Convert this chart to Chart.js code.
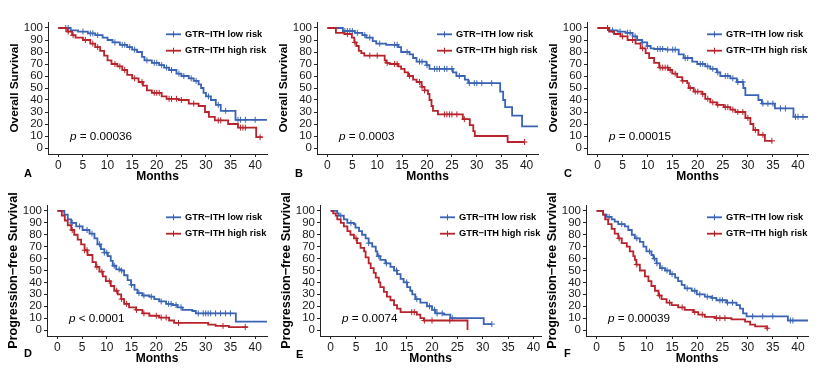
<!DOCTYPE html>
<html>
<head>
<meta charset="utf-8">
<script src="https://cdn.jsdelivr.net/npm/chart.js@4.4.1/dist/chart.umd.min.js"></script>
<style>
  html, body { margin: 0; padding: 0; background: #fff; }
  body { width: 831px; height: 373px; position: relative; overflow: hidden; }
  canvas { position: absolute; }
</style>
</head>
<body>
<canvas id="cA"></canvas>
<canvas id="cB"></canvas>
<canvas id="cC"></canvas>
<canvas id="cD"></canvas>
<canvas id="cE"></canvas>
<canvas id="cF"></canvas>
<script>
// Kaplan-Meier curves: event times (months), survival (%), censor times

const xTicks = [0, 5, 10, 15, 20, 25, 30, 35, 40];
const yTicks = [0, 10, 20, 30, 40, 50, 60, 70, 80, 90, 100];
const seriesNames = ["GTR\u2212ITH low risk", "GTR\u2212ITH high risk"];

// A - overall survival
const aLowT = [0, 2.5, 4, 6, 7.5, 9, 10, 11, 12.5, 14, 15, 16, 17, 17.5, 19, 20.5, 21.5, 22.5, 24, 25, 26.5, 27.5, 28.5, 29, 29.5, 30, 31, 32, 33, 36, 42.4];
const aLowS = [100, 98, 97, 95.5, 94, 92, 90, 88, 86, 84, 82, 80, 76, 73, 71, 69, 67, 65, 62, 60, 58, 56, 53, 50, 46, 43, 40, 36, 31, 23.5, 23.5];
const aLowC = [1.5, 2, 5, 6.5, 7, 8, 11.5, 13, 13.5, 14.5, 15.5, 18, 19.5, 20, 21, 22, 23, 24.5, 25.5, 27, 28, 30.5, 32.5, 34, 36.5, 37, 38, 40];
const aHighT = [0, 1.8, 2.8, 3.5, 5, 6.5, 7.5, 8.5, 9.3, 10, 10.8, 12, 13, 14, 15, 16.3, 17.2, 18, 19, 21, 22, 24.5, 26.5, 28.5, 29.8, 30.6, 31.8, 34.5, 36.5, 40.2, 41.5];
const aHighS = [100, 97, 94, 92, 90, 87, 84, 81, 77, 73, 70, 68, 65, 61, 58, 55, 52, 48, 46, 43, 41, 40, 37, 35, 30, 26, 23, 20, 17, 9, 9];
const aHighC = [2, 3, 5.5, 7, 8, 11.5, 12.5, 13.5, 15.5, 17, 19.5, 20, 20.5, 22.5, 23, 24, 25, 27.5, 32.5, 33, 37, 37.5, 38, 41];

// B - overall survival
const bLowT = [0, 3.1, 5.5, 7, 7.8, 9.1, 9.8, 11.8, 14.2, 14.8, 16.5, 17.2, 17.9, 19.9, 20.5, 25.2, 25.9, 27.6, 28.3, 34.7, 35.3, 35.7, 37.1, 39.1, 42.3];
const bLowS = [100, 97.5, 96, 94, 92, 89, 87, 86, 84, 80, 78, 75, 72, 69, 66, 63, 60, 57, 54, 47, 40, 34, 27, 18, 18];
const bLowC = [3.5, 4, 4.5, 5, 6, 7.5, 8.5, 10.5, 13.5, 14, 16, 18.5, 19, 20, 21.5, 22, 22.5, 23.5, 24, 25, 26.5, 28.5, 29.5, 30, 31, 33];
const bHighT = [0, 1.7, 3.4, 4.9, 5.4, 5.8, 6.3, 6.8, 7.4, 11.5, 11.8, 12.5, 14.2, 14.8, 15.5, 16.2, 17.2, 17.9, 18.9, 19.5, 20.2, 20.5, 20.9, 21.2, 22.2, 27.2, 28.6, 29.3, 29.6, 36.2, 39.6];
const bHighS = [100, 96, 95, 92, 88, 85, 81, 79, 77, 73, 71, 70, 68, 66, 63, 60, 57, 55, 51, 48, 45, 40, 35, 31, 28, 24, 19, 14, 10, 5, 5];
const bHighC = [4, 5.5, 8.5, 10, 12, 13.5, 14, 16.5, 18.5, 19, 19.5, 23.5, 24, 24.5, 25, 26, 27.5, 39.6];

// C - overall survival
const cLowT = [0, 2.3, 4, 5.6, 7, 7.9, 8.9, 9.9, 10.6, 11.3, 13.6, 16.2, 17.2, 18.9, 19.9, 21.5, 22.5, 23.8, 24.5, 26.5, 27.8, 29.1, 29.5, 32.1, 32.8, 35.4, 39.1, 42];
const cLowS = [100, 98, 97, 96, 93, 90, 88, 85, 83, 82.5, 82, 78, 75, 72, 70, 68, 66, 63, 60, 58, 55, 50, 44, 40, 37, 33, 26, 26];
const cLowC = [3, 4.5, 6, 6.5, 7.5, 9, 10, 12, 12.5, 13, 14, 15, 15.5, 17.5, 18, 20.5, 21, 22, 23, 24, 25.5, 26, 27, 28, 29, 33, 34, 35, 36.5, 37.5, 39.5, 40, 41];
const cHighT = [0, 2.3, 3.3, 4.6, 6, 7.6, 8.6, 9.6, 10.3, 11.3, 12.3, 14.2, 14.9, 15.9, 16.9, 17.9, 18.2, 19.2, 20.9, 21.5, 22.5, 23.8, 25.2, 26.5, 27.5, 29.5, 30.5, 31.1, 32.1, 33.4, 34.8];
const cHighS = [100, 97, 95, 93, 90, 87, 83, 79, 75, 71, 67, 65, 62, 59, 56, 54, 50, 47, 45, 41, 38, 36, 34, 32, 30, 25, 20, 15, 11, 6, 6];
const cHighC = [2, 5, 7, 9, 12.5, 13, 13.5, 14, 14.5, 15.5, 17, 18.5, 19.5, 20, 21, 22, 23, 24, 25.5, 26, 27, 28, 29, 30, 31.5, 33, 34.8];

// D - progression-free survival
const dLowT = [0, 1.4, 2.1, 2.8, 3.8, 5.1, 6.5, 7.5, 8.1, 8.8, 9.5, 10.2, 10.8, 11.2, 11.9, 12.9, 13.5, 14.2, 14.9, 15.6, 16.2, 17.2, 18.6, 19.6, 20.6, 22, 23.3, 24.3, 25.3, 27.3, 28, 36.1, 42.4];
const dLowS = [100, 97, 93, 90, 87, 84, 81, 77, 72, 68, 65, 62, 58, 54, 51, 50, 46, 42, 38, 34, 31, 29, 28, 26, 24, 22, 21, 19, 17, 16, 14, 7, 7];
const dLowC = [3, 4.5, 6, 7, 8.5, 9.5, 10, 11.5, 12.5, 13, 15, 16.5, 17.5, 19, 21, 22.5, 23, 24, 25, 28.5, 29.5, 30, 30.5, 31, 32, 33, 34, 35];
const dHighT = [0, 0.9, 1.5, 2.1, 2.8, 3.4, 4.1, 4.8, 5.5, 6.1, 7.1, 7.8, 8.5, 9.2, 9.8, 10.8, 11.5, 12.2, 12.9, 13.5, 14.5, 15.9, 17.2, 18.6, 20.6, 22.6, 23.6, 30.5, 32, 34.7, 38.5];
const dHighS = [100, 96, 92, 88, 84, 80, 76, 72, 67, 63, 57, 53, 49, 45, 41, 37, 33, 30, 26, 22, 19, 17, 14, 12, 10.5, 8, 6, 4.5, 3.5, 2.5, 2.5];
const dHighC = [3, 5.5, 6, 8, 9, 10.5, 12, 13, 14, 16, 17.5, 20, 21, 22, 24.5, 33.5, 38];

// E - progression-free survival
const eLowT = [0, 1.3, 1.6, 2.6, 3.3, 4.6, 4.9, 5.6, 6.2, 6.9, 7.5, 8.2, 8.9, 9.2, 9.8, 10.8, 11.8, 12.5, 13.1, 13.8, 14.4, 15.1, 15.7, 16.1, 16.7, 17.7, 19, 20, 20.7, 22.3, 23.6, 30.2, 31.8];
const eLowS = [100, 98, 96, 93, 90, 89, 86, 83, 80, 77, 73, 70, 66, 62, 59, 56, 53, 50, 47, 43, 40, 36, 33, 30, 26, 23, 20, 17, 14, 13, 10, 5, 5];
const eLowC = [2, 4, 7.5, 9.5, 11, 13, 15, 17, 19.5, 20.5, 21, 22, 24, 31.8];
const eHighT = [0, 0.5, 1, 1.3, 2, 2.6, 3.3, 3.9, 4.6, 5.2, 5.9, 6.6, 6.9, 7.5, 7.9, 8.5, 8.9, 9.5, 9.8, 10.5, 11.1, 11.8, 12.5, 13.1, 13.8, 17, 17.7, 18.4, 27];
const eHighS = [100, 98, 96, 93, 90, 87, 83, 80, 77, 73, 69, 66, 61, 56, 52, 48, 44, 40, 36, 32, 28, 25, 21, 18, 15, 13, 10, 8, 0];
const eHighC = [5, 16, 16.5, 18.5, 20, 23.5];

// F - progression-free survival
const fLowT = [0, 1.3, 2, 3, 3.6, 4.3, 5.6, 6.3, 7, 7.6, 8.6, 9.3, 9.9, 10.9, 11.3, 11.9, 12.6, 13.6, 14.6, 15.6, 16.2, 16.9, 17.5, 18.9, 19.9, 21.5, 22.8, 23.8, 25.8, 27.8, 28.5, 29.1, 29.8, 38, 42];
const fLowS = [100, 97, 95, 93, 91, 89, 87, 84, 80, 77, 74, 70, 66, 63, 60, 56, 52, 50, 47, 44, 41, 38, 35, 33, 30, 28, 27, 25, 23, 21, 18, 14, 11.5, 8, 8];
const fLowC = [2.5, 5, 8, 10.5, 11.5, 12, 13, 14, 15, 18, 19.5, 20.5, 22, 23, 24.5, 25, 26, 27, 31, 33, 35, 38.5, 39];
const fHighT = [0, 1.3, 1.7, 2.3, 3, 3.6, 4.3, 5, 6, 6.6, 7.3, 7.6, 7.9, 8.6, 9.6, 10.3, 10.9, 11.6, 12.3, 12.9, 13.9, 14.9, 16.2, 17.5, 19.2, 20.2, 21.5, 23.5, 26.8, 29.5, 30.5, 31.5, 33.8, 34.1];
const fHighS = [100, 97, 93, 89, 85, 81, 77, 73, 70, 66, 62, 59, 55, 50, 45, 41, 37, 33, 29, 26, 23, 21, 19, 17, 15, 13, 11, 10, 9, 7, 4.5, 3, 1.5, 1.5];
const fHighC = [4.5, 8, 12.5, 14.5, 17, 19.5, 21, 23.8, 24.5, 25.5, 33.9];

const blue = "#3a63b4";
const red = "#b8232b";

// panel boxes (canvas) and plot areas, in page pixels
const panels = [
  { id: "cA", box: [0, 0, 272, 190], area: [48, 22, 269, 154], yTitle: "Overall Survival", ySize: 11.8, letter: "A", p: "0.00036", pSign: "=", xMax: 42.4,
    low: [aLowT, aLowS, aLowC], high: [aHighT, aHighS, aHighC], letterDx: -24, letterDy: 20 },
  { id: "cB", box: [272, 0, 275, 190], area: [317, 22, 538, 154], yTitle: "Overall Survival", ySize: 11.8, letter: "B", p: "0.0003", pSign: "=", xMax: 42.3,
    low: [bLowT, bLowS, bLowC], high: [bHighT, bHighS, bHighC], letterDx: -22, letterDy: 20 },
  { id: "cC", box: [547, 0, 284, 190], area: [587, 22, 808, 154], yTitle: "Overall Survival", ySize: 11.8, letter: "C", p: "0.00015", pSign: "=", xMax: 42,
    low: [cLowT, cLowS, cLowC], high: [cHighT, cHighS, cHighC], letterDx: -23, letterDy: 20 },
  { id: "cD", box: [0, 190, 272, 183], area: [47, 205, 268, 336], yTitle: "Progression\u2212free Survival", ySize: 12.6, letter: "D", p: "0.0001", pSign: "<", xMax: 42.4,
    low: [dLowT, dLowS, dLowC], high: [dHighT, dHighS, dHighC], letterDx: -23, letterDy: 18 },
  { id: "cE", box: [272, 190, 275, 183], area: [320, 205, 541, 336], yTitle: "Progression\u2212free Survival", ySize: 12.6, letter: "E", p: "0.0074", pSign: "=", xMax: 41.5,
    low: [eLowT, eLowS, eLowC], high: [eHighT, eHighS, eHighC], letterDx: -24, letterDy: 19 },
  { id: "cF", box: [547, 190, 284, 183], area: [586, 205, 808, 336], yTitle: "Progression\u2212free Survival", ySize: 12.6, letter: "F", p: "0.00039", pSign: "=", xMax: 42,
    low: [fLowT, fLowS, fLowC], high: [fHighT, fHighS, fHighC], letterDx: -22, letterDy: 18 }
];

// step value of a KM curve at time t
function survAt(times, surv, t) {
  let v = surv[0];
  for (let i = 0; i < times.length; i++) {
    if (times[i] <= t) v = surv[i];
  }
  return v;
}

function curveData(times, surv) {
  return times.map((t, i) => ({ x: t, y: surv[i] }));
}

function censorData(times, surv, cens) {
  return cens.map((t) => ({ x: t, y: survAt(times, surv, t) }));
}

// draws titles, panel letter, legend and p value
const decorPlugin = {
  id: "decor",
  afterDraw(chart, args, opts) {
    const ctx = chart.ctx;
    const a = chart.chartArea;
    const font = "'Liberation Sans', Arial, Helvetica, sans-serif";
    ctx.save();
    ctx.fillStyle = "#000";

    // y title
    ctx.save();
    ctx.translate(a.left - 33, (a.top + a.bottom) / 2);
    ctx.rotate(-Math.PI / 2);
    ctx.font = "bold " + opts.ySize + "px " + font;
    ctx.textAlign = "center";
    ctx.textBaseline = "middle";
    ctx.fillText(opts.yTitle, 0, 0);
    ctx.restore();

    // x title
    ctx.font = "bold 12px " + font;
    ctx.textAlign = "center";
    ctx.textBaseline = "middle";
    ctx.fillText("Months", (a.left + a.right) / 2, a.bottom + 23);

    // panel letter
    ctx.font = "bold 11px " + font;
    ctx.textAlign = "left";
    ctx.fillText(opts.letter, a.left + opts.letterDx, a.bottom + opts.letterDy);

    // legend
    const tx = a.right - 82;
    const rows = [a.top + 12.3, a.top + 28.7];
    const cols = [blue, red];
    ctx.font = "bold 9.3px " + font;
    rows.forEach((ry, i) => {
      ctx.strokeStyle = cols[i];
      ctx.lineWidth = 1.8;
      ctx.beginPath();
      ctx.moveTo(tx - 19, ry);
      ctx.lineTo(tx - 4, ry);
      ctx.stroke();
      ctx.lineWidth = 1;
      ctx.beginPath();
      ctx.moveTo(tx - 11.5, ry - 3);
      ctx.lineTo(tx - 11.5, ry + 3);
      ctx.stroke();
      ctx.fillStyle = "#000";
      ctx.fillText(seriesNames[i], tx, ry);
    });

    // p value
    const px = a.left + 22;
    const py = a.bottom - 17.5;
    ctx.font = "italic 11.7px " + font;
    ctx.fillText("p", px, py);
    const pw = ctx.measureText("p").width;
    ctx.font = "11.7px " + font;
    ctx.fillText(" " + opts.pSign + " " + opts.p, px + pw, py);
    ctx.restore();
  },
};

function makeChart(pn) {
  const cv = document.getElementById(pn.id);
  const [bx, by, bw, bh] = pn.box;
  const [l, t, r, b] = pn.area;
  cv.width = bw;
  cv.height = bh;
  cv.style.left = bx + "px";
  cv.style.top = by + "px";
  cv.style.width = bw + "px";
  cv.style.height = bh + "px";

  const [lowT, lowS, lowC] = pn.low;
  const [highT, highS, highC] = pn.high;
  const tickFont = { family: "'Liberation Sans', Arial, Helvetica, sans-serif", size: 12 };

  return new Chart(cv, {
    type: "line",
    data: {
      datasets: [
        { data: curveData(highT, highS), borderColor: red, borderWidth: 1.8, stepped: true, pointRadius: 0, fill: false },
        { data: curveData(lowT, lowS), borderColor: blue, borderWidth: 1.8, stepped: true, pointRadius: 0, fill: false },
        { data: censorData(highT, highS, highC), showLine: false, pointStyle: "cross", pointRadius: 3, borderColor: red, borderWidth: 1 },
        { data: censorData(lowT, lowS, lowC), showLine: false, pointStyle: "cross", pointRadius: 3, borderColor: blue, borderWidth: 1 },
      ],
    },
    options: {
      responsive: false,
      animation: false,
      devicePixelRatio: 1,
      layout: { padding: { left: 0, top: t - by, right: bx + bw - r, bottom: 0 } },
      plugins: {
        legend: { display: false },
        tooltip: { enabled: false },
        decor: { yTitle: pn.yTitle, ySize: pn.ySize, letter: pn.letter, p: pn.p, pSign: pn.pSign, letterDx: pn.letterDx, letterDy: pn.letterDy },
      },
      scales: {
        x: {
          type: "linear",
          min: -2.1,
          max: pn.xMax,
          afterBuildTicks: (s) => { s.ticks = xTicks.map((v) => ({ value: v })); },
          afterFit: (s) => { s.height = by + bh - b; },
          grid: { display: true, drawOnChartArea: false, drawTicks: true, tickLength: 3, color: "#222" },
          border: { display: true, color: "#222", width: 1 },
          ticks: { font: tickFont, color: "#1a1a1a", padding: 1, maxRotation: 0, autoSkip: false },
        },
        y: {
          type: "linear",
          min: -5,
          max: 105,
          afterBuildTicks: (s) => { s.ticks = yTicks.map((v) => ({ value: v })); },
          afterFit: (s) => { s.width = l - bx; },
          grid: { display: true, drawOnChartArea: false, drawTicks: true, tickLength: 3, color: "#222" },
          border: { display: true, color: "#222", width: 1 },
          ticks: { font: { family: tickFont.family, size: 11.5 }, color: "#1a1a1a", padding: 2, autoSkip: false },
        },
      },
    },
    plugins: [decorPlugin],
  });
}

panels.forEach(makeChart);
</script>
</body>
</html>
